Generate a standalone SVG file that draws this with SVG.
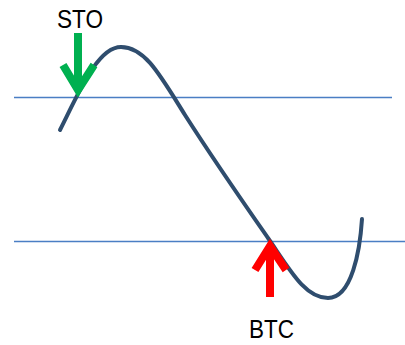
<svg xmlns="http://www.w3.org/2000/svg" width="405" height="345" viewBox="0 0 405 345">
<style>
.lvl{stroke:#4A7EC4;stroke-width:1.5;fill:none}
.curve{stroke:#2F4D6E;stroke-width:4;fill:none;stroke-linecap:round}
.lbl{font-family:"Liberation Sans",Arial,sans-serif;font-size:26px;fill:#000}
.arr{fill:none;stroke-width:8;stroke-linejoin:miter;stroke-linecap:butt}
</style>
<rect width="405" height="345" fill="#fff"/>
<g id="levels">
<line class="lvl" x1="14" y1="97.5" x2="392" y2="97.5"/>
<line class="lvl" x1="14" y1="241.5" x2="405" y2="241.5"/>
</g>
<g id="curve">
<path class="curve" d="M60,130 C80,90 98,47 121,47 C145,47 160,75 185,115 C215,162 245,205 268,238 C290,270 305,298 328,298 C352,298 360,250 362,219"/>
</g>
<g id="sto">
<text class="lbl" x="57" y="27.5" textLength="46" lengthAdjust="spacingAndGlyphs">STO</text>
<g class="arr" stroke="#00B050">
<line x1="78" y1="33" x2="78" y2="88"/>
<polyline points="63,65 78,90 94,65"/>
</g>
</g>
<g id="btc">
<text class="lbl" x="249" y="338" textLength="45" lengthAdjust="spacingAndGlyphs">BTC</text>
<g class="arr" stroke="#FF0000">
<line x1="270" y1="297" x2="270" y2="250"/>
<polyline points="255,270 270,246 286,270"/>
</g>
</g>
</svg>
